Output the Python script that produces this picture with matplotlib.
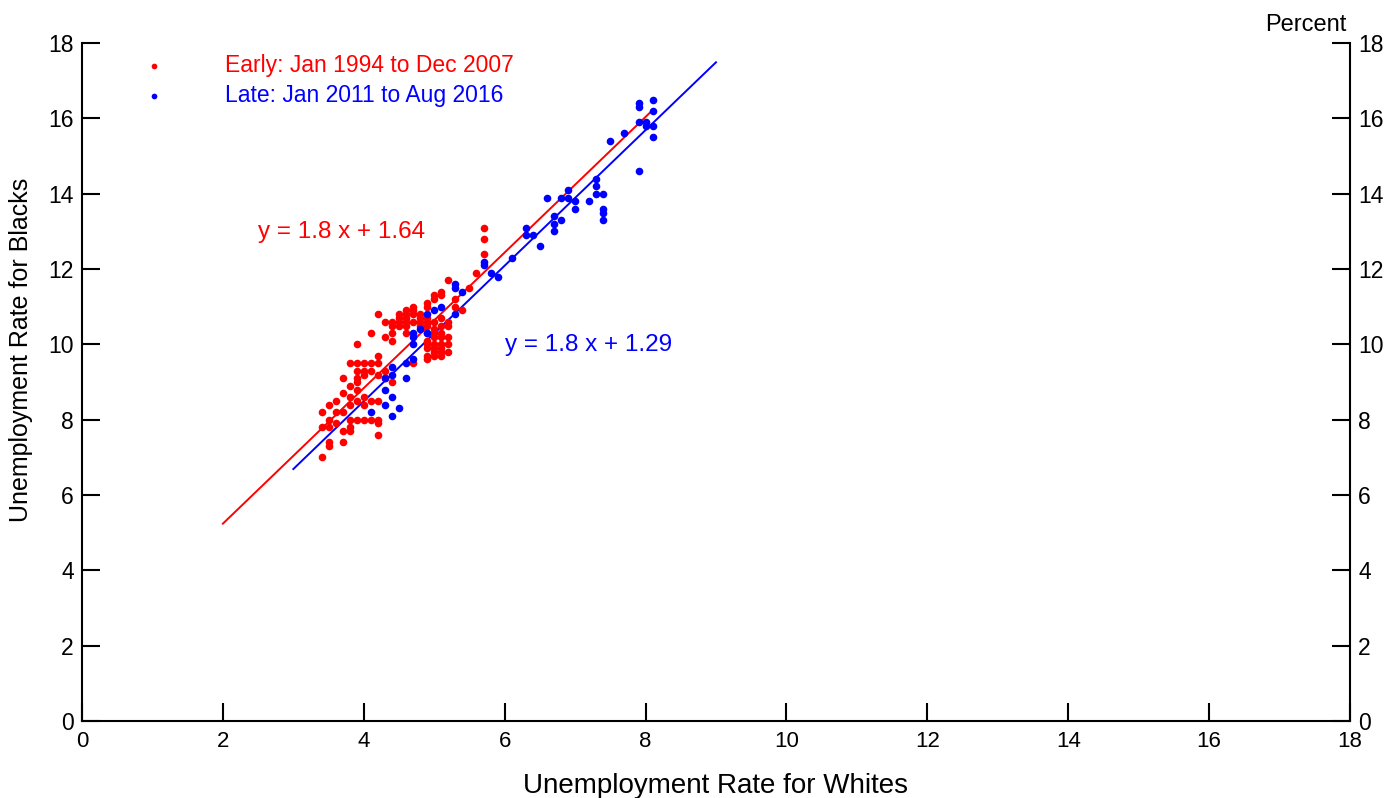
import matplotlib.pyplot as plt

plt.rcParams['font.family'] = ['Liberation Sans', 'DejaVu Sans']

# Early sample: Jan 1994 - Dec 2007 (white rate, black rate)
early_x = [3.4, 3.4, 3.4,
           3.5, 3.5, 3.5, 3.5, 3.5,
           3.6, 3.6, 3.6,
           3.7, 3.7, 3.7, 3.7, 3.7,
           3.8, 3.8, 3.8, 3.8, 3.8, 3.8, 3.8,
           3.9, 3.9, 3.9, 3.9, 3.9, 3.9, 3.9, 3.9,
           4.0, 4.0, 4.0, 4.0, 4.0, 4.0,
           4.1, 4.1, 4.1, 4.1, 4.1,
           4.2, 4.2, 4.2, 4.2, 4.2, 4.2, 4.2, 4.2,
           4.3, 4.3, 4.3, 4.3,
           4.4, 4.4, 4.4, 4.4, 4.4,
           4.5, 4.5, 4.5, 4.5,
           4.6, 4.6, 4.6, 4.6, 4.6, 4.6,
           4.7, 4.7, 4.7, 4.7, 4.7,
           4.8, 4.8, 4.8, 4.8,
           4.9, 4.9, 4.9, 4.9, 4.9, 4.9, 4.9, 4.9, 4.9, 4.9, 4.9,
           5.0, 5.0, 5.0, 5.0, 5.0, 5.0, 5.0, 5.0, 5.0, 5.0,
           5.1, 5.1, 5.1, 5.1, 5.1, 5.1, 5.1, 5.1, 5.1, 5.1,
           5.2, 5.2, 5.2, 5.2, 5.2, 5.2,
           5.3, 5.3, 5.4, 5.5, 5.6,
           5.7, 5.7, 5.7]
early_y = [7.0, 7.8, 8.2,
           7.3, 7.4, 7.8, 8.0, 8.4,
           7.9, 8.2, 8.5,
           7.4, 7.7, 8.2, 8.7, 9.1,
           7.7, 7.8, 8.0, 8.4, 8.6, 8.9, 9.5,
           8.0, 8.5, 8.8, 9.0, 9.1, 9.3, 9.5, 10.0,
           8.0, 8.4, 8.6, 9.2, 9.3, 9.5,
           8.0, 8.5, 9.3, 9.5, 10.3,
           7.6, 7.9, 8.0, 8.5, 9.2, 9.5, 9.7, 10.8,
           9.1, 9.3, 10.2, 10.6,
           9.0, 10.1, 10.3, 10.5, 10.6,
           10.5, 10.6, 10.7, 10.8,
           10.3, 10.5, 10.6, 10.7, 10.8, 10.9,
           9.5, 10.6, 10.8, 10.9, 11.0,
           10.5, 10.6, 10.7, 10.8,
           9.6, 9.7, 9.9, 10.0, 10.1, 10.3, 10.5, 10.6, 10.7, 11.0, 11.1,
           9.7, 9.8, 9.9, 10.0, 10.2, 10.3, 10.4, 10.6, 11.2, 11.3,
           9.7, 9.8, 9.9, 10.0, 10.2, 10.3, 10.5, 10.7, 11.3, 11.4,
           9.8, 10.0, 10.2, 10.5, 10.6, 11.7,
           11.0, 11.2, 10.9, 11.5, 11.9,
           12.4, 12.8, 13.1]

# Late sample: Jan 2011 - Aug 2016
late_x = [4.1, 4.3, 4.3, 4.3, 4.4, 4.4, 4.4, 4.4, 4.5, 4.6, 4.6,
          4.7, 4.7, 4.7, 4.7, 4.8, 4.9, 4.9, 5.0, 5.1, 5.3, 5.3, 5.3,
          5.4, 5.7, 5.7, 5.8, 5.9, 6.1, 6.3, 6.3, 6.4, 6.5, 6.6,
          6.7, 6.7, 6.7, 6.8, 6.8, 6.9, 6.9, 7.0, 7.0, 7.2,
          7.3, 7.3, 7.3, 7.4, 7.4, 7.4, 7.4, 7.5, 7.7,
          7.9, 7.9, 7.9, 7.9, 8.0, 8.0, 8.1, 8.1, 8.1, 8.1]
late_y = [8.2, 8.4, 8.8, 9.1, 8.1, 8.6, 9.2, 9.4, 8.3, 9.1, 9.5,
          9.6, 10.0, 10.2, 10.3, 10.4, 10.3, 10.8, 10.9, 11.0, 10.8, 11.5, 11.6,
          11.4, 12.1, 12.2, 11.9, 11.8, 12.3, 12.9, 13.1, 12.9, 12.6, 13.9,
          13.0, 13.2, 13.4, 13.3, 13.9, 13.9, 14.1, 13.6, 13.8, 13.8,
          14.0, 14.2, 14.4, 13.3, 13.5, 13.6, 14.0, 15.4, 15.6,
          14.6, 15.9, 16.3, 16.4, 15.8, 15.9, 15.5, 15.8, 16.2, 16.5]

# fitted lines: slope, intercept, x range
early_fit = (1.8, 1.64, [2.0, 8.08])
late_fit = (1.8, 1.29, [3.0, 9.0])

ticks = [0, 2, 4, 6, 8, 10, 12, 14, 16, 18]

fig = plt.figure(figsize=(13.9, 7.98), dpi=100)
ax = fig.add_axes([0.059, 0.0965, 0.9122, 0.8495])

ax.scatter(early_x, early_y, s=30, color='#ff0000', linewidths=0, zorder=3,
           label='Early: Jan 1994 to Dec 2007')
ax.scatter(late_x, late_y, s=30, color='#0000ff', linewidths=0, zorder=4,
           label='Late: Jan 2011 to Aug 2016')

for (m, b, xr), c in [(early_fit, '#ff0000'), (late_fit, '#0000ff')]:
    ax.plot(xr, [m * v + b for v in xr], color=c, lw=1.4, zorder=2)

ax.text(2.5, 12.98, 'y = 1.8 x + 1.64', color='#ff0000', fontsize=17.5, va='center')
ax.text(6.0, 9.98, 'y = 1.8 x + 1.29', color='#0000ff', fontsize=17.5, va='center')

ax.set_xlim(0, 18)
ax.set_ylim(0, 18)
ax.set_xticks(ticks)
ax.set_yticks(ticks)
ax.spines['top'].set_visible(False)
for s in ['left', 'right', 'bottom']:
    ax.spines[s].set_linewidth(1.5)
ax.tick_params(direction='in', length=13, width=1.5, labelsize=16.5,
               left=True, right=True, labelright=True, pad=5)
ax.tick_params(axis='y', which='both', right=True)
ax.yaxis.set_tick_params(pad=6)
ax.tick_params(axis='x', pad=7, labelsize=16)

ax.set_xlabel('Unemployment Rate for Whites', fontsize=20)
ax.xaxis.set_label_coords(0.5, -0.076)
ax.set_ylabel('Unemployment Rate for Blacks', fontsize=18)
ax.yaxis.set_label_coords(-0.039, 0.547)

ax.text(0.9975, 1.027, 'Percent', transform=ax.transAxes, ha='right',
        va='center', fontsize=17)

leg = ax.legend(loc='upper left', bbox_to_anchor=(0.048, 0.984), frameon=False,
                fontsize=16.5, handlelength=1, handletextpad=2.6,
                labelspacing=0.32, borderpad=0, borderaxespad=0,
                scatterpoints=1, markerscale=0.75)
for t, c in zip(leg.get_texts(), ['#ff0000', '#0000ff']):
    t.set_color(c)

fig.savefig('out.png', dpi=100)
